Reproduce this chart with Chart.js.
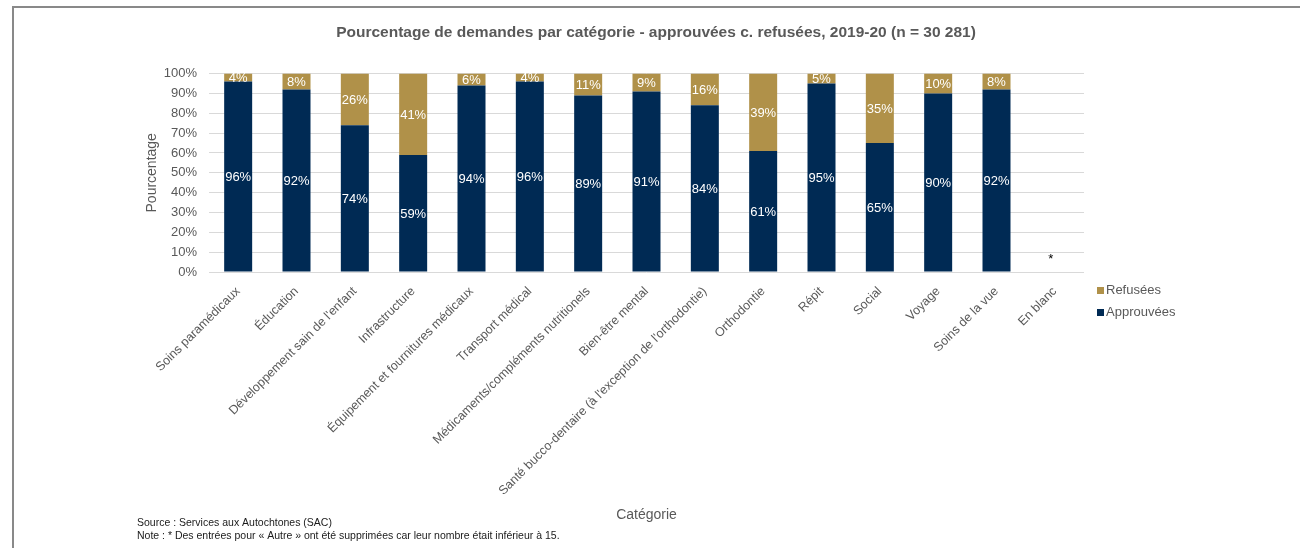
<!DOCTYPE html>
<html lang="fr">
<head>
<meta charset="utf-8">
<title>Pourcentage de demandes par catégorie</title>
<script src="https://cdn.jsdelivr.net/npm/chart.js@4.4.1/dist/chart.umd.min.js"></script>
<style>
  html, body { margin: 0; padding: 0; background: #fff; overflow: hidden; }
  #frame {
    position: absolute; left: 12px; top: 6px; width: 1320px; height: 600px;
    border-top: 2px solid #898989; border-left: 2px solid #898989;
  }
  #chart { position: absolute; left: 14px; top: 8px; }
</style>
</head>
<body>
<div id="frame"></div>
<canvas id="chart" width="1284" height="540"></canvas>
<script>
// Categories (x axis)
const categories = [
  'Soins paramédicaux',
  'Éducation',
  "Développement sain de l'enfant",
  'Infrastructure',
  'Équipement et fournitures médicaux',
  'Transport médical',
  'Médicaments/compléments nutritionels',
  'Bien-être mental',
  "Santé bucco-dentaire (à l'exception de l'orthodontie)",
  'Orthodontie',
  'Répit',
  'Social',
  'Voyage',
  'Soins de la vue',
  'En blanc'
];

// Share of requests (%) per category
const approuvees = [96, 92, 74, 59, 94, 96, 89, 91, 84, 61, 95, 65, 90, 92, null];
const refusees   = [4, 8, 26, 41, 6, 4, 11, 9, 16, 39, 5, 35, 10, 8, null];

// Footnote markers shown above a category without bars
const categoryNotes = ['', '', '', '', '', '', '', '', '', '', '', '', '', '', '*'];

const yTicks = [0, 10, 20, 30, 40, 50, 60, 70, 80, 90, 100];

const titleText = 'Pourcentage de demandes par catégorie - approuvées c. refusées, 2019-20 (n = 30 281)';
const sourceLines = [
  'Source : Services aux Autochtones (SAC)',
  'Note : * Des entrées pour « Autre » ont été supprimées car leur nombre était inférieur à 15.'
];

const NAVY = '#002a54';
const GOLD = '#b09149';
const GREY = '#595959';
const FONT = '"Liberation Sans", Arial, sans-serif';

// White percentage labels centred in each bar segment
const segmentLabels = {
  id: 'segmentLabels',
  afterDatasetsDraw(chart) {
    const ctx = chart.ctx;
    ctx.save();
    ctx.font = '13px ' + FONT;
    ctx.fillStyle = '#ffffff';
    ctx.textAlign = 'center';
    ctx.textBaseline = 'middle';
    chart.data.datasets.forEach((ds, i) => {
      const meta = chart.getDatasetMeta(i);
      meta.data.forEach((bar, j) => {
        const v = ds.data[j];
        if (v === null || v === undefined) return;
        const p = bar.getProps(['x', 'y', 'base'], true);
        ctx.fillText(v + '%', p.x, (p.y + p.base) / 2 + 1);
      });
    });
    // markers for categories without data
    const xs = chart.scales.x, ys = chart.scales.y;
    ctx.fillStyle = '#000000';
    ctx.textBaseline = 'alphabetic';
    categoryNotes.forEach((n, j) => {
      if (!n) return;
      ctx.fillText(n, xs.getPixelForValue(j) - 4, ys.getPixelForValue(0) - 9);
    });
    ctx.restore();
  }
};

// Legend on the right, below the plot area, and the source notes
const sideLegend = {
  id: 'sideLegend',
  afterDraw(chart) {
    const ctx = chart.ctx;
    const area = chart.chartArea;
    ctx.save();
    ctx.font = '13px ' + FONT;
    ctx.textBaseline = 'middle';
    ctx.textAlign = 'left';
    const items = chart.data.datasets.slice().reverse();
    items.forEach((ds, k) => {
      const cy = area.bottom + 18 + k * 22;
      ctx.fillStyle = ds.backgroundColor;
      ctx.fillRect(area.right + 13, cy - 3, 7, 7);
      ctx.fillStyle = GREY;
      ctx.fillText(ds.label, area.right + 22, cy);
    });
    ctx.font = '10.5px ' + FONT;
    ctx.fillStyle = '#1a1a1a';
    ctx.textBaseline = 'alphabetic';
    sourceLines.forEach((line, k) => {
      ctx.fillText(line, 123, 518 + k * 13);
    });
    ctx.restore();
  }
};

new Chart(document.getElementById('chart'), {
  type: 'bar',
  data: {
    labels: categories,
    datasets: [
      { label: 'Approuvées', data: approuvees, backgroundColor: NAVY, borderWidth: 0 },
      { label: 'Refusées', data: refusees, backgroundColor: GOLD, borderWidth: 0 }
    ]
  },
  options: {
    responsive: false,
    animation: false,
    layout: { padding: 0 },
    datasets: { bar: { barPercentage: 0.48, categoryPercentage: 1.0 } },
    plugins: {
      legend: { display: false },
      tooltip: { enabled: false },
      title: {
        display: true,
        text: titleText,
        color: GREY,
        font: { family: FONT, size: 15.5, weight: 'bold' },
        padding: { top: 15, bottom: 32 }
      }
    },
    scales: {
      x: {
        stacked: true,
        grid: { display: false },
        border: { display: false },
        ticks: {
          autoSkip: false,
          maxRotation: 45,
          minRotation: 45,
          padding: 4,
          color: GREY,
          font: { family: FONT, size: 12.5 }
        },
        title: {
          display: true,
          text: 'Catégorie',
          color: GREY,
          font: { family: FONT, size: 14 },
          padding: { top: 0, bottom: 24 }
        },
        afterFit(scale) { scale.height = 276; }
      },
      y: {
        stacked: true,
        min: 0,
        max: 100,
        afterBuildTicks(scale) { scale.ticks = yTicks.map(v => ({ value: v })); },
        grid: { color: '#d9d9d9', lineWidth: 1, drawTicks: false },
        border: { display: false },
        ticks: {
          padding: 12,
          color: GREY,
          font: { family: FONT, size: 13 },
          callback: v => v + '%'
        },
        title: {
          display: true,
          text: 'Pourcentage',
          color: GREY,
          font: { family: FONT, size: 14 },
          padding: { top: 130, bottom: 0 }
        },
        afterFit(scale) { scale.width = 195; }
      },
      // empty right-hand band holding the legend column
      side: {
        type: 'linear',
        position: 'right',
        display: true,
        grid: { display: false },
        border: { display: false },
        ticks: { display: false },
        afterFit(scale) { scale.width = 214; }
      }
    }
  },
  plugins: [segmentLabels, sideLegend]
});
</script>
</body>
</html>
